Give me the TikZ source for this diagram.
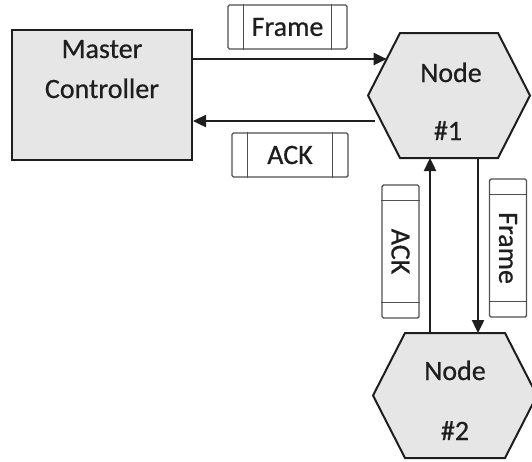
\documentclass[tikz,border=0pt]{standalone}
\usepackage{fontspec}
\setmainfont{Carlito}[FakeBold=0.6]
\usetikzlibrary{arrows.meta,calc}
\definecolor{shade}{HTML}{E6E6E6}
\definecolor{ink}{HTML}{1E1E1E}
\definecolor{pktline}{HTML}{505050}

% two separator bars near both ends of a packet
\newcommand\pktbars[1]{%
  \draw[bar] ($(#1.north west)!16pt!(#1.north east)$) -- ($(#1.south west)!16pt!(#1.south east)$);
  \draw[bar] ($(#1.north east)!16pt!(#1.north west)$) -- ($(#1.south east)!16pt!(#1.south west)$);
}
% flat-topped hexagon filling the box of a node
\newcommand\hexoutline[1]{%
  \filldraw[hexline] (#1.west) -- ([xshift=32pt]#1.north west) -- ([xshift=-32pt]#1.north east)
    -- (#1.east) -- ([xshift=-32pt]#1.south east) -- ([xshift=32pt]#1.south west) -- cycle;
}

\begin{document}
\begin{tikzpicture}[x=1pt,y=-1pt,
  lbl/.style={font=\fontsize{28}{32}\selectfont, text=ink, inner sep=0pt},
  mcbox/.style={draw=ink, fill=shade, line width=2pt, minimum width=180pt, minimum height=130pt, inner sep=0pt},
  hexbox/.style={minimum width=#1, minimum height=125pt, inner sep=0pt, outer sep=0pt},
  hexline/.style={draw=ink, fill=shade, line width=2pt, line join=miter},
  packet/.style={draw=pktline, fill=white, line width=1.4pt, rounded corners=1.5pt, inner sep=0pt,
    minimum width=#1, minimum height=44pt, font=\fontsize{28}{32}\selectfont, text=ink},
  vpacket/.style={packet=#1, minimum height=37pt, rotate=-90},
  bar/.style={draw=pktline, line width=1.4pt},
  conn/.style={draw=ink, line width=2.4pt, -{Triangle[length=13pt,width=12pt]}},
]
\useasboundingbox (0,0) rectangle (532,461);

% master controller
\node[mcbox] (mc) at (102,95) {};
\node[lbl, anchor=base] (mcA) at (102,58) {Master};
\node[lbl, anchor=base] (mcB) at (102,98) {Controller};

% slave nodes
\node[hexbox=162pt] (n1) at (449,95.5) {};
\hexoutline{n1}
\node[lbl, anchor=base] (n1a) at (451,82) {Node};
\node[lbl, anchor=base] (n1b) at (448,140) {\#1};

\node[hexbox=164pt] (n2) at (455,395.5) {};
\hexoutline{n2}
\node[lbl, anchor=base] (n2a) at (455,380) {Node};
\node[lbl, anchor=base] (n2b) at (455,440) {\#2};

% links
\coordinate (fin) at ($(n1.west)!0.584!([xshift=32pt]n1.north west)$);
\coordinate (aout) at ($(n1.west)!0.408!([xshift=32pt]n1.south west)$);
\draw[conn] (mc.east |- fin) -- (fin);
\draw[conn] ([xshift=-6pt]aout) -- (mc.east |- aout);
\coordinate (upx) at (430,0);
\coordinate (dnx) at (478,0);
\draw[conn] (n2.north -| upx) -- (n1.south -| upx);
\draw[conn] (n1.south -| dnx) -- (n2.north -| dnx);

% packets on the links
\node[packet=119pt] (pf1) at (287.5,27) {Frame};
\pktbars{pf1}
\node[packet=116pt] (pa1) at (290,155) {ACK};
\pktbars{pa1}
\node[vpacket=133pt] (pa2) at (400.5,251.5) {ACK};
\pktbars{pa2}
\node[vpacket=138pt] (pf2) at (508,248) {Frame};
\pktbars{pf2}
\end{tikzpicture}
\end{document}
